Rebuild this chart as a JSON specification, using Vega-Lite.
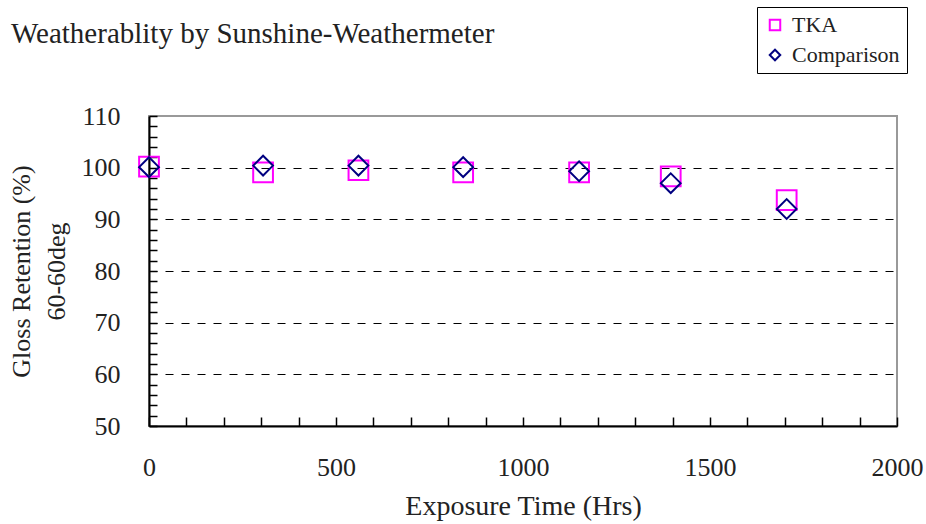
{
  "$schema": "https://vega.github.io/schema/vega-lite/v6.json",
  "width": 748,
  "height": 310,
  "autosize": {"type": "none"},
  "padding": {"left": 149, "top": 116, "right": 29, "bottom": 98},
  "background": "white",
  "config": {
    "font": "Liberation Serif",
    "view": {"stroke": "#999999", "strokeWidth": 2}
  },
  "title": {
    "text": "Weatherablity by Sunshine-Weathermeter",
    "anchor": "start",
    "frame": "group",
    "dx": -138,
    "offset": -65,
    "baseline": "alphabetic",
    "fontSize": 29,
    "fontWeight": "normal",
    "color": "#222222",
    "font": "Liberation Serif"
  },
  "data": {
    "values": [
      {"series": "TKA", "hrs": 0, "gloss": 100.2},
      {"series": "TKA", "hrs": 305, "gloss": 99.1},
      {"series": "TKA", "hrs": 560, "gloss": 99.5},
      {"series": "TKA", "hrs": 840, "gloss": 99.1},
      {"series": "TKA", "hrs": 1150, "gloss": 99.1},
      {"series": "TKA", "hrs": 1395, "gloss": 98.3},
      {"series": "TKA", "hrs": 1705, "gloss": 93.7},
      {"series": "Comparison", "hrs": 0, "gloss": 100.1},
      {"series": "Comparison", "hrs": 305, "gloss": 100.4},
      {"series": "Comparison", "hrs": 560, "gloss": 100.4},
      {"series": "Comparison", "hrs": 840, "gloss": 100.1},
      {"series": "Comparison", "hrs": 1150, "gloss": 99.3},
      {"series": "Comparison", "hrs": 1395, "gloss": 97.0},
      {"series": "Comparison", "hrs": 1705, "gloss": 92.0}
    ]
  },
  "mark": {"type": "point", "filled": false, "size": 390, "strokeWidth": 2, "opacity": 1},
  "encoding": {
    "x": {
      "field": "hrs",
      "type": "quantitative",
      "scale": {"domain": [0, 2000], "nice": false, "zero": false},
      "axis": {
        "values": [0,100,200,300,400,500,600,700,800,900,1000,1100,1200,1300,1400,1500,1600,1700,1800,1900,2000],
        "labelExpr": "datum.value % 500 === 0 ? datum.label : ''",
        "format": "d",
        "grid": false,
        "domainColor": "black",
        "domainWidth": 2,
        "tickColor": "black",
        "tickWidth": 1.5,
        "tickSize": -9,
        "labelPadding": 37,
        "labelFontSize": 26,
        "labelColor": "#222222",
        "labelFlush": false,
        "labelOverlap": false,
        "title": "Exposure Time (Hrs)",
        "titleFontSize": 28,
        "titleFontWeight": "normal",
        "titleColor": "#222222",
        "titlePadding": 12
      }
    },
    "y": {
      "field": "gloss",
      "type": "quantitative",
      "scale": {"domain": [50, 110], "nice": false, "zero": false},
      "axis": {
        "values": [50,52,54,56,58,60,62,64,66,68,70,72,74,76,78,80,82,84,86,88,90,92,94,96,98,100,102,104,106,108,110],
        "labelExpr": "datum.value % 10 === 0 ? datum.label : ''",
        "grid": true,
        "gridColor": "black",
        "gridDash": [8, 8],
        "gridWidth": 1.2,
        "gridOpacity": {"condition": {"test": "datum.value % 10 === 0 && datum.value > 50 && datum.value < 110", "value": 1}, "value": 0},
        "domainColor": "black",
        "domainWidth": 2,
        "tickColor": "black",
        "tickWidth": 1.5,
        "tickSize": -8,
        "labelPadding": 37,
        "labelFontSize": 26,
        "labelColor": "#222222",
        "labelOverlap": false,
        "title": ["Gloss Retention (%)", "60-60deg"],
        "titleFontSize": 26,
        "titleFontWeight": "normal",
        "titleColor": "#222222",
        "titleLineHeight": 35,
        "titlePadding": 12
      }
    },
    "color": {
      "field": "series",
      "type": "nominal",
      "scale": {"domain": ["TKA", "Comparison"], "range": ["#FF00FF", "#000080"]},
      "legend": {
        "orient": "none",
        "legendX": 608,
        "legendY": -109,
        "title": null,
        "strokeColor": "black",
        "fillColor": "white",
        "padding": 7,
        "labelFontSize": 22,
        "labelFont": "Liberation Serif",
        "labelColor": "#222222",
        "symbolSize": 110,
        "symbolStrokeWidth": 2,
        "rowPadding": 8,
        "labelOffset": 6,
        "encode": {
          "legend": {"update": {"strokeWidth": {"value": 1.5}}}
        }
      }
    },
    "shape": {
      "field": "series",
      "type": "nominal",
      "scale": {"domain": ["TKA", "Comparison"], "range": ["square", "diamond"]}
    }
  }
}
